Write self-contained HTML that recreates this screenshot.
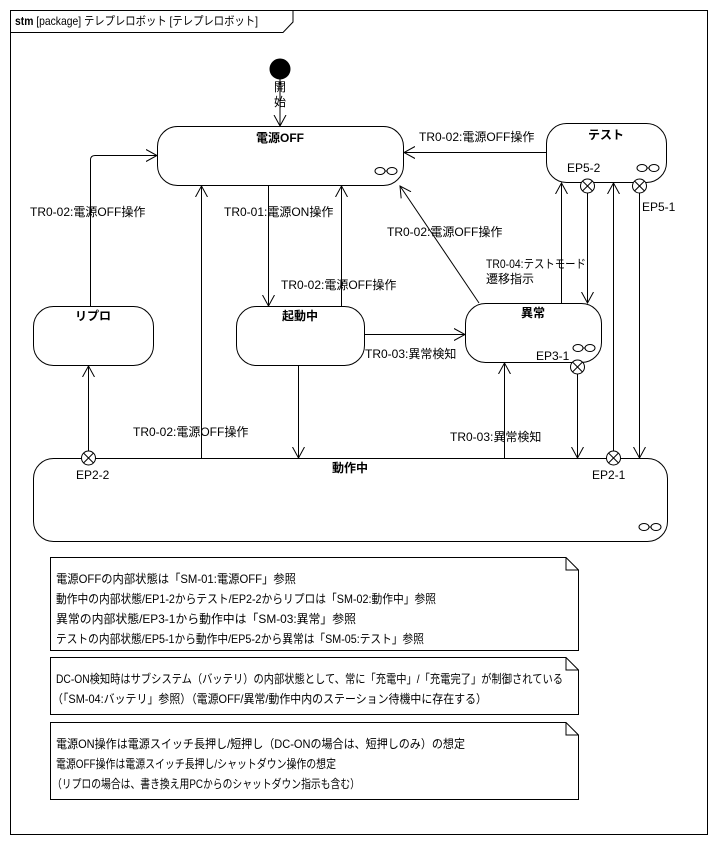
<!DOCTYPE html>
<html><head><meta charset="utf-8"><style>
body{margin:0;background:#fff}
svg{display:block}
text{font-family:"Liberation Sans","Noto Sans CJK JP",sans-serif;font-size:12px;fill:#000}
.b{font-weight:bold}
</style></head><body>
<svg width="718" height="845" viewBox="0 0 718 845" xmlns="http://www.w3.org/2000/svg">
<defs>
<marker id="a" markerWidth="12" markerHeight="14" refX="11" refY="7" orient="auto" markerUnits="userSpaceOnUse">
<path d="M0,1 L11,7 L0,13" fill="none" stroke="#000" stroke-width="1"/></marker>
<g id="sm"><ellipse cx="-6" cy="0" rx="5" ry="3.5" fill="none" stroke="#000"/><ellipse cx="6" cy="0" rx="5" ry="3.5" fill="none" stroke="#000"/><line x1="-1" y1="0" x2="1" y2="0" stroke="#000"/></g>
<g id="ep"><circle r="7" fill="#fff" stroke="#000"/><line x1="-5" y1="-5" x2="5" y2="5" stroke="#000"/><line x1="5" y1="-5" x2="-5" y2="5" stroke="#000"/></g>
</defs>
<rect x="10.5" y="10.5" width="697" height="824" fill="none" stroke="#000"/>
<path d="M10.5,32.5 H283 L293,22 V10.5" fill="none" stroke="#000"/>
<text x="15" y="25" textLength="243" lengthAdjust="spacingAndGlyphs"><tspan class="b">stm</tspan> [package] テレプレロボット [テレプレロボット]</text>

<g fill="none" stroke="#000" stroke-width="1">
<circle cx="280" cy="69" r="10" fill="#000"/>
<line x1="280" y1="79" x2="280" y2="126" marker-end="url(#a)"/>
<rect x="157.5" y="126.5" width="246" height="59" rx="20"/>
<rect x="546.5" y="123.5" width="120" height="59" rx="20"/>
<rect x="33.5" y="306.5" width="120" height="59" rx="20"/>
<rect x="236.5" y="306.5" width="128" height="59" rx="20"/>
<rect x="465.5" y="303.5" width="136" height="59" rx="20"/>
<rect x="33.5" y="458.5" width="634" height="83" rx="20"/>

<line x1="546" y1="152.5" x2="404" y2="152.5" marker-end="url(#a)"/>
<path d="M90.5,306 V160 Q90.5,155.5 95,155.5 H157" marker-end="url(#a)"/>
<line x1="88.5" y1="451" x2="88.5" y2="366" marker-end="url(#a)"/>
<line x1="201.5" y1="458" x2="201.5" y2="186" marker-end="url(#a)"/>
<line x1="268.5" y1="186" x2="268.5" y2="306" marker-end="url(#a)"/>
<line x1="341.5" y1="306" x2="341.5" y2="186" marker-end="url(#a)"/>
<line x1="364" y1="334.5" x2="465" y2="334.5" marker-end="url(#a)"/>
<line x1="298.5" y1="366" x2="298.5" y2="458" marker-end="url(#a)"/>
<line x1="479" y1="303" x2="400" y2="186" marker-end="url(#a)"/>
<line x1="561.5" y1="303" x2="561.5" y2="183" marker-end="url(#a)"/>
<line x1="587.5" y1="193" x2="587.5" y2="303" marker-end="url(#a)"/>
<line x1="504.5" y1="458" x2="504.5" y2="363" marker-end="url(#a)"/>
<line x1="577.5" y1="374" x2="577.5" y2="458" marker-end="url(#a)"/>
<line x1="613.5" y1="451" x2="613.5" y2="183" marker-end="url(#a)"/>
<line x1="639.5" y1="193" x2="639.5" y2="458" marker-end="url(#a)"/>

<path d="M50.5,557.5 H566 L578.5,570 V650.5 H50.5 Z M566,557.5 V570 H578.5"/>
<path d="M50.5,657.5 H566 L578.5,670 V714.5 H50.5 Z M566,657.5 V670 H578.5"/>
<path d="M50.5,722.5 H566 L578.5,735 V799.5 H50.5 Z M566,722.5 V735 H578.5"/>
</g>
<use href="#sm" x="386" y="171"/>
<use href="#sm" x="648" y="168"/>
<use href="#sm" x="584" y="348"/>
<use href="#sm" x="650" y="527"/>
<use href="#ep" x="587.5" y="186"/>
<use href="#ep" x="639.5" y="186"/>
<use href="#ep" x="577.5" y="367"/>
<use href="#ep" x="88.5" y="458"/>
<use href="#ep" x="613.5" y="458"/>

<text x="274" y="91">開</text><text x="274" y="106">始</text>
<text class="b" x="280" y="142" text-anchor="middle">電源OFF</text>
<text class="b" x="606" y="139" text-anchor="middle">テスト</text>
<text class="b" x="93" y="320" text-anchor="middle">リプロ</text>
<text class="b" x="300" y="320" text-anchor="middle">起動中</text>
<text class="b" x="533" y="317" text-anchor="middle">異常</text>
<text class="b" x="350" y="472" text-anchor="middle">動作中</text>
<text x="567" y="172">EP5-2</text>
<text x="642" y="211">EP5-1</text>
<text x="536" y="360">EP3-1</text>
<text x="76" y="479">EP2-2</text>
<text x="592" y="479">EP2-1</text>

<text x="419" y="141">TR0-02:電源OFF操作</text>
<text x="30" y="216">TR0-02:電源OFF操作</text>
<text x="224" y="216">TR0-01:電源ON操作</text>
<text x="387" y="236">TR0-02:電源OFF操作</text>
<text x="281" y="289">TR0-02:電源OFF操作</text>
<text x="486" y="268" textLength="100" lengthAdjust="spacingAndGlyphs">TR0-04:テストモード</text>
<text x="486" y="283">遷移指示</text>
<text x="365" y="358">TR0-03:異常検知</text>
<text x="133" y="436">TR0-02:電源OFF操作</text>
<text x="450" y="441">TR0-03:異常検知</text>

<text x="56" y="583" textLength="240" lengthAdjust="spacingAndGlyphs">電源OFFの内部状態は「SM-01:電源OFF」参照</text>
<text x="56" y="603" textLength="380" lengthAdjust="spacingAndGlyphs">動作中の内部状態/EP1-2からテスト/EP2-2からリプロは「SM-02:動作中」参照</text>
<text x="56" y="623" textLength="300" lengthAdjust="spacingAndGlyphs">異常の内部状態/EP3-1から動作中は「SM-03:異常」参照</text>
<text x="56" y="643" textLength="368" lengthAdjust="spacingAndGlyphs">テストの内部状態/EP5-1から動作中/EP5-2から異常は「SM-05:テスト」参照</text>
<text x="56" y="683" textLength="507" lengthAdjust="spacingAndGlyphs">DC-ON検知時はサブシステム（バッテリ）の内部状態として、常に「充電中」/「充電完了」が制御されている</text>
<text x="52" y="703" textLength="435" lengthAdjust="spacingAndGlyphs">（「SM-04:バッテリ」参照）（電源OFF/異常/動作中内のステーション待機中に存在する）</text>
<text x="56" y="748" textLength="409" lengthAdjust="spacingAndGlyphs">電源ON操作は電源スイッチ長押し/短押し（DC-ONの場合は、短押しのみ）の想定</text>
<text x="56" y="768" textLength="280" lengthAdjust="spacingAndGlyphs">電源OFF操作は電源スイッチ長押し/シャットダウン操作の想定</text>
<text x="52" y="788" textLength="308" lengthAdjust="spacingAndGlyphs">（リプロの場合は、書き換え用PCからのシャットダウン指示も含む）</text>
</svg>
</body></html>
